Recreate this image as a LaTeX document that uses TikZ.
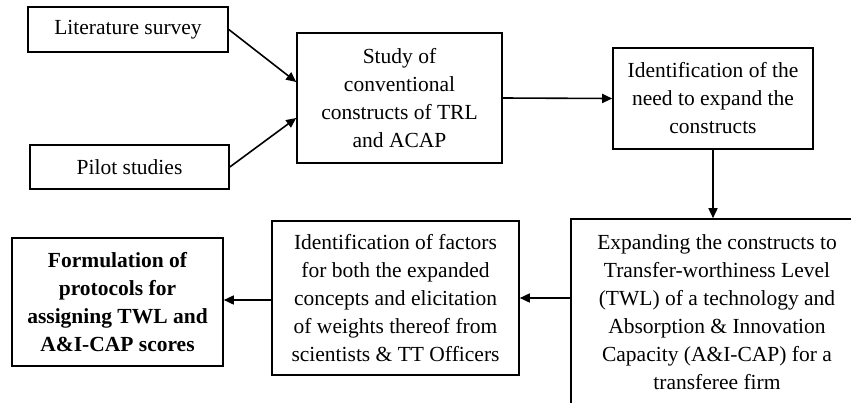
\documentclass[tikz,border=0pt]{standalone}
\usepackage{fontspec}
\setmainfont{Liberation Serif}
\usetikzlibrary{arrows.meta}
\tikzset{
  stepbox/.style={draw, line width=1.6pt, align=center, inner sep=0pt,
    font=\fontsize{21.5}{28}\selectfont},
  flow/.style={line width=1.6pt, -{Triangle[length=10pt,width=9pt]}}
}
\begin{document}
\begin{tikzpicture}[x=1pt,y=-1pt]
        \useasboundingbox (0,0) rectangle (851,402);
        \clip (0,0) rectangle (851,402);
        \node[stepbox, minimum width=200pt, minimum height=45pt] (lit) at (128,29.5) {Literature survey};
        \node[stepbox, minimum width=199pt, minimum height=44pt] (pilot) at (129.5,167) {Pilot studies};
        \node[stepbox, minimum width=205pt, minimum height=130pt] (study) at (399.5,98) {Study of\\conventional\\constructs of TRL\\and ACAP};
        \node[stepbox, minimum width=200pt, minimum height=101pt] (need) at (713,98.5) {Identification of the\\need to expand the\\constructs};
        \node[stepbox, minimum width=292pt, minimum height=186pt] (expand) at (717,312) {Expanding the constructs to\\Transfer-worthiness Level\\(TWL) of a technology and\\Absorption \& Innovation\\Capacity (A\&I-CAP) for a\\transferee firm};
        \node[stepbox, minimum width=247pt, minimum height=154pt] (factors) at (395.5,298) {Identification of factors\\for both the expanded\\concepts and elicitation\\of weights thereof from\\scientists \& TT Officers};
        \node[stepbox, minimum width=211pt, minimum height=128pt, font=\fontsize{21.5}{28}\selectfont\bfseries] (protocol) at (117.5,302) {Formulation of\\protocols for\\assigning TWL and\\A\&I-CAP scores};
        \draw[flow] (lit.east) -- ([yshift=16pt]study.west);
        \draw[flow] (pilot.east) -- ([yshift=-20pt]study.west);
        \draw[flow] (study.east) -- (need.west);
        \draw[flow] (need.south) -- (need.south |- expand.north);
        \draw[flow] (expand.west |- factors.east) -- (factors.east);
        \draw[flow] ([yshift=-2pt]factors.west) -- ([yshift=-2pt]factors.west -| protocol.east);
      \end{tikzpicture}
\end{document}
